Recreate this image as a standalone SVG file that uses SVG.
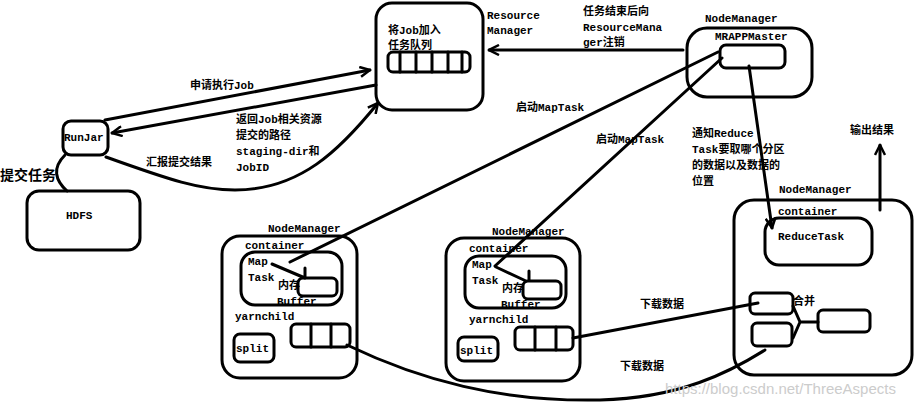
<svg xmlns="http://www.w3.org/2000/svg" width="916" height="406" viewBox="0 0 916 406">
<defs>
<style>
.b{fill:none;stroke:#000;stroke-width:3;stroke-linecap:round;stroke-linejoin:round}
.l{fill:none;stroke:#000;stroke-width:3;stroke-linecap:round}
text{font-family:"Liberation Mono","Noto Sans CJK SC",monospace;font-weight:bold;font-size:11px;fill:#000}
.big{font-size:14px}
.wm{font-family:"Liberation Sans",sans-serif;font-weight:normal;font-size:15px;fill:#ccc}
</style>
<marker id="a" viewBox="0 0 12 12" refX="11" refY="6" markerWidth="12" markerHeight="12" markerUnits="userSpaceOnUse" orient="auto"><path d="M1,1 L11,6 L1,11" fill="none" stroke="#000" stroke-width="2.5"/></marker>
</defs>
<rect width="916" height="406" fill="#fff"/>
<g id="rm">
<rect class="b" x="376" y="3" width="107" height="107" rx="16"/>
<rect class="b" x="388" y="52" width="82" height="20" rx="5"/>
<path class="l" d="M400,52V72M416,52V72M432,52V72M448,52V72M462,52V72"/>
<text x="388" y="34">将Job加入</text><text x="388" y="49">任务队列</text>
<text x="487" y="19">Resource</text><text x="487" y="34">Manager</text>
</g>
<g id="runjar">
<rect class="b" x="63" y="121" width="45" height="34" rx="8"/>
<text x="64" y="141">RunJar</text>
</g>
<g id="hdfs">
<rect class="b" x="27" y="191" width="113" height="59" rx="12"/>
<text x="66" y="219">HDFS</text>
</g>
<text class="big" x="0" y="180">提交任务</text>
<g id="nm0">
<text x="705" y="22">NodeManager</text>
<rect class="b" x="687" y="28" width="125" height="69" rx="20"/>
<text x="715" y="40">MRAPPMaster</text>
<rect class="b" x="720" y="45" width="65" height="23" rx="6"/>
</g>
<g id="nm1">
<text x="268" y="232">NodeManager</text>
<rect class="b" x="222" y="236" width="135" height="142" rx="18"/>
<text x="245" y="249">container</text>
<rect class="b" x="241" y="252" width="101" height="53" rx="14"/>
<text x="248" y="265">Map</text><text x="248" y="281">Task</text>
<text x="278" y="289">内存</text><text x="277" y="305">Buffer</text>
<rect class="b" x="298" y="278" width="39" height="18" rx="5"/>
<path class="l" d="M272,264L305,278M305,268V277"/>
<text x="235" y="320">yarnchild</text>
<rect class="b" x="291" y="324" width="59" height="23" rx="5"/>
<path class="l" d="M311,324V347M331,324V347"/>
<rect class="b" x="234" y="334" width="40" height="28" rx="6"/>
<text x="236" y="352">split</text>
</g>
<g id="nm2">
<text x="492" y="235">NodeManager</text>
<rect class="b" x="446" y="238" width="134" height="143" rx="18"/>
<text x="469" y="252">container</text>
<rect class="b" x="465" y="256" width="101" height="52" rx="14"/>
<text x="472" y="268">Map</text><text x="472" y="284">Task</text>
<text x="502" y="292">内存</text><text x="501" y="308">Buffer</text>
<rect class="b" x="523" y="281" width="38" height="18" rx="5"/>
<path class="l" d="M496,267L526,281M529,271V280"/>
<text x="469" y="323">yarnchild</text>
<rect class="b" x="515" y="327" width="58" height="23" rx="5"/>
<path class="l" d="M535,327V350M556,327V350"/>
<rect class="b" x="458" y="337" width="40" height="24" rx="6"/>
<text x="460" y="354">split</text>
</g>
<g id="nm3">
<text x="779" y="193">NodeManager</text>
<rect class="b" x="734" y="200" width="178" height="175" rx="20"/>
<text x="778" y="215">container</text>
<rect class="b" x="765" y="218" width="107" height="47" rx="14"/>
<text x="778" y="240">ReduceTask</text>
<rect class="b" x="750" y="293" width="43" height="21" rx="5"/>
<rect class="b" x="752" y="323" width="40" height="23" rx="5"/>
<rect class="b" x="818" y="310" width="52" height="22" rx="5"/>
<text x="793" y="305">合并</text>
<path class="l" d="M793,306L800,322L793,338M800,322H818"/>
</g>
<g id="connectors">
<path class="l" d="M105,120L370,70" marker-end="url(#a)"/>
<path class="l" d="M376,85L112,133" marker-end="url(#a)"/>
<path class="l" d="M106,157C170,180 200,190 235,190C300,190 340,150 378,103" marker-end="url(#a)"/>
<path class="l" d="M65,155C52,168 55,180 67,191"/>
<path class="l" d="M683,50H489" marker-end="url(#a)"/>
<path class="l" d="M718,52L290,262"/>
<path class="l" d="M722,58L495,266"/>
<path class="l" d="M749,66L772,228" marker-end="url(#a)"/>
<path class="l" d="M880,210V145" marker-end="url(#a)"/>
<path class="l" d="M573,338L758,303"/>
<path class="l" d="M347,345C420,380 500,402 600,400C680,398 730,372 765,350"/>
</g>
<text x="516" y="111">启动MapTask</text>
<text x="596" y="143">启动MapTask</text>
<text x="190" y="89">申请执行Job</text>
<text x="236" y="123">返回Job相关资源</text>
<text x="236" y="139">提交的路径</text>
<text x="236" y="155">staging-dir和</text>
<text x="236" y="171">JobID</text>
<text x="146" y="166">汇报提交结果</text>
<text x="583" y="15">任务结束后向</text>
<text x="583" y="31">ResourceMana</text>
<text x="583" y="46">ger注销</text>
<text x="692" y="137">通知Reduce</text>
<text x="692" y="153">Task要取哪个分区</text>
<text x="692" y="169">的数据以及数据的</text>
<text x="692" y="185">位置</text>
<text x="850" y="134">输出结果</text>
<text x="640" y="308">下载数据</text>
<text x="620" y="370">下载数据</text>
<text class="wm" x="665" y="394">https://blog.csdn.net/ThreeAspects</text>
</svg>
